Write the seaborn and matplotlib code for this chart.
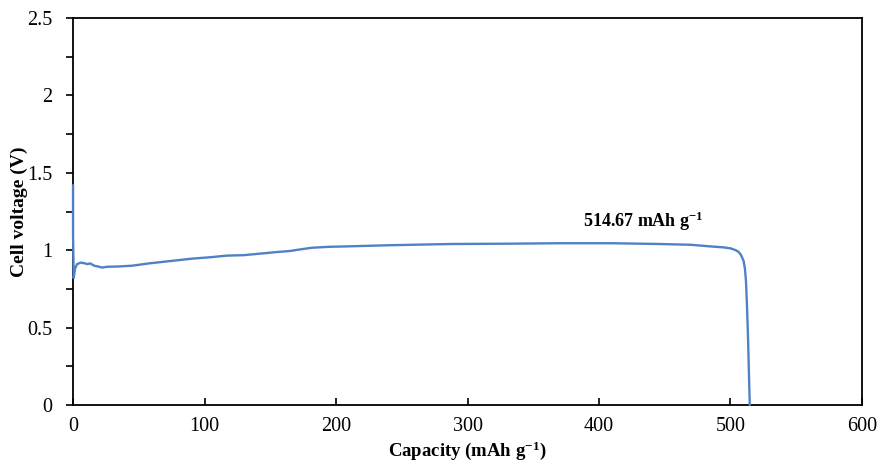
import matplotlib
matplotlib.use("Agg")
import matplotlib.pyplot as plt
import seaborn as sns
import pandas as pd
from matplotlib.ticker import MultipleLocator

# discharge curve
capacity = [0, 0, 0.5, 1.5, 3, 6, 9, 11, 13, 16, 19, 22, 26, 35, 45, 58, 74, 90,
            105, 117, 130, 145, 155, 165, 175, 182, 195, 210, 240, 287, 330, 370,
            410, 446, 470, 484, 495, 500, 504, 506, 508, 510, 511, 511.8, 512.5,
            513.3, 514, 514.67]
voltage = [1.42, 1.10, 0.82, 0.88, 0.91, 0.92, 0.915, 0.91, 0.915, 0.90, 0.895,
           0.888, 0.893, 0.895, 0.90, 0.915, 0.93, 0.945, 0.955, 0.965, 0.968,
           0.98, 0.988, 0.995, 1.008, 1.016, 1.022, 1.025, 1.032, 1.04, 1.042,
           1.045, 1.045, 1.04, 1.035, 1.025, 1.018, 1.012, 1.0, 0.99, 0.97, 0.93,
           0.88, 0.80, 0.65, 0.45, 0.22, 0.0]
final_capacity = 514.67

df = pd.DataFrame({"Capacity": capacity, "Voltage": voltage})

sns.set_style("white")
plt.rcParams["font.family"] = ["Liberation Serif", "DejaVu Serif"]
plt.rcParams["mathtext.fontset"] = "custom"
plt.rcParams["mathtext.rm"] = "Liberation Serif"
plt.rcParams["mathtext.bf"] = "Liberation Serif:bold"
plt.rcParams["text.color"] = "black"
plt.rcParams["axes.labelcolor"] = "black"

fig = plt.figure(figsize=(8.8, 4.62), dpi=100)
ax = fig.add_axes([0.083, 0.1234, 0.8965, 0.8376])

sns.lineplot(data=df, x="Capacity", y="Voltage", sort=False, estimator=None,
             color="#4F81C7", linewidth=1.7, ax=ax, zorder=5)
for ln in ax.lines:
    ln.set_clip_on(False)

ax.set_xlim(0, 600)
ax.set_ylim(0, 2.5)
ax.xaxis.set_major_locator(MultipleLocator(100))
ax.yaxis.set_minor_locator(MultipleLocator(0.25))
ax.set_yticks([0, 0.5, 1, 1.5, 2, 2.5])
ax.set_yticklabels(["0", "0.5", "1", "1.5", "2", "2.5"])

ax.tick_params(axis="x", direction="in", length=5, width=1.2, labelsize=14.5,
               pad=9, bottom=True, colors="black")
ax.tick_params(axis="y", which="both", direction="out", length=5, width=1.2,
               labelsize=14.5, pad=10, left=True, colors="black")
ax.tick_params(axis="x", which="minor", bottom=False)
for s in ax.spines.values():
    s.set_color("black")
    s.set_linewidth(1.3)

ax.set_xlabel(r"Capacity (mAh g$\mathbf{^{-1}}$)", fontsize=13.5, fontweight="bold")
ax.set_ylabel("Cell voltage (V)", fontsize=14, fontweight="bold")
ax.xaxis.set_label_coords(0.5, -0.089)
ax.yaxis.set_label_coords(-0.068, 0.5)
ax.yaxis.label.set_va("center")

ax.text(388, 1.15, f"{final_capacity:.2f} mAh g" + r"$\mathbf{^{-1}}$",
        fontsize=13, fontweight="bold", va="baseline", ha="left")

fig.savefig("out.png", dpi=100)
